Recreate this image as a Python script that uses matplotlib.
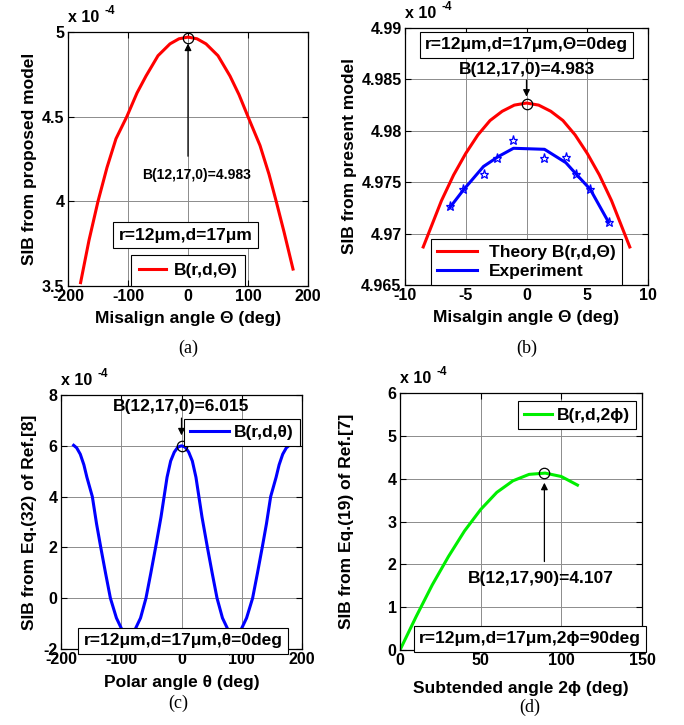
import matplotlib
matplotlib.use("Agg")
import matplotlib.pyplot as plt
from matplotlib.ticker import FuncFormatter, FixedLocator

plt.rcParams['font.family'] = ['Liberation Sans', 'DejaVu Sans']
plt.rcParams['font.weight'] = 'bold'

TICK = 11.5
LAB = 12.5
ANN = 12.5

# ---------------- data (values in units of 1e-4) ----------------
# (a)
a_x = [-179, -165, -150, -135, -120, -102, -85, -70, -50, -30, -15, 0,
       15, 30, 50, 70, 85, 100, 120, 135, 147, 160, 175]
a_y = [3.52, 3.77, 4.00, 4.20, 4.37, 4.50, 4.64, 4.74, 4.86, 4.93, 4.96, 4.97,
       4.96, 4.93, 4.86, 4.74, 4.63, 4.50, 4.33, 4.16, 4.00, 3.82, 3.60]
a_peak = (0, 4.965)

# (b)
b_theory_x = [-8.5, -7, -6, -5, -4, -3, -2, -1, 0, 1, 2, 3, 4, 5, 6, 7, 8.5]
b_theory_y = [4.9687, 4.9732, 4.9757, 4.9778, 4.9796, 4.9810, 4.9819, 4.9825,
              4.9827, 4.9825, 4.9819, 4.9810, 4.9796, 4.9778, 4.9757, 4.9732, 4.9687]
b_exp_line_x = [-6.29, -5.19, -3.54, -2.31, -1.07, 1.48, 3.24, 4.0, 5.25, 6.76]
b_exp_line_y = [4.97256, 4.97425, 4.97653, 4.9775, 4.9783, 4.9782, 4.9769, 4.9759, 4.9743, 4.9711]
b_exp_pts_x = [-6.3, -5.2, -3.5, -2.4, -1.07, 1.46, 3.24, 4.07, 5.25, 6.76]
b_exp_pts_y = [4.9727, 4.9743, 4.9758, 4.9774, 4.9791, 4.9774, 4.9775, 4.9758, 4.9743, 4.9711]
b_peak = (0, 4.9826)

# (c)
c_x = [-179, -174, -168, -162, -157, -148, -141, -134, -126, -118, -108, -98, -88,
       -78, -68, -59, -51, -43, -34, -24, -18, -12, -6, 0,
       6, 12, 18, 24, 34, 43, 51, 59, 68, 78, 88, 98, 108, 118, 126, 134, 141, 148,
       157, 162, 168, 174, 179]
c_y = [6.02, 5.92, 5.67, 5.25, 4.76, 4.0, 2.93, 2.0, 0.98, 0.0, -0.78, -1.28, -1.45,
       -1.28, -0.78, 0.0, 0.98, 2.0, 3.2, 4.76, 5.4, 5.75, 5.95, 6.0,
       5.95, 5.75, 5.4, 4.76, 3.2, 2.0, 0.98, 0.0, -0.78, -1.28, -1.45, -1.28, -0.78,
       0.0, 0.98, 2.0, 2.93, 4.0, 4.76, 5.25, 5.67, 5.92, 6.02]
c_peak = (0, 6.0)

# (d)
d_x = [0, 10, 20, 30, 40, 50, 60, 70, 80, 90, 100, 110]
d_y = [0.0, 0.78, 1.52, 2.18, 2.78, 3.28, 3.68, 3.95, 4.10, 4.13, 4.05, 3.85]
d_peak = (89.5, 4.13)

fig = plt.figure(figsize=(6.84, 7.25), dpi=100)
W, H = 684, 725

def make_ax(l, r, t, b):
    return fig.add_axes([l / W, 1 - b / H, (r - l) / W, (b - t) / H])

fmt = FuncFormatter(lambda v, p: '%g' % round(v, 6))

def style(ax, xlim, ylim, xt, yt):
    ax.set_xlim(*xlim)
    ax.set_ylim(*ylim)
    ax.xaxis.set_major_locator(FixedLocator(xt))
    ax.yaxis.set_major_locator(FixedLocator(yt))
    ax.xaxis.set_major_formatter(fmt)
    ax.yaxis.set_major_formatter(fmt)
    ax.tick_params(direction='in', length=4, width=0.8, top=True, right=True,
                   labelsize=TICK, pad=2.5)
    ax.grid(True, color='0.55', lw=0.7)
    ax.set_axisbelow(True)
    for s in ax.spines.values():
        s.set_linewidth(0.9)
    ax.annotate('x 10', xy=(0, 1), xycoords='axes fraction', xytext=(0, 5),
                textcoords='offset points', ha='left', va='bottom',
                fontsize=TICK, fontweight='bold')
    ax.annotate('-4', xy=(0, 1), xycoords='axes fraction', xytext=(26, 11),
                textcoords='offset points', ha='left', va='bottom',
                fontsize=8.5, fontweight='bold')

boxprops = dict(boxstyle='square,pad=0.3', fc='white', ec='black', lw=0.8)

def legend(ax, **kw):
    leg = ax.legend(fancybox=False, edgecolor='black', framealpha=1, fontsize=ANN,
                    borderaxespad=0, **kw)
    leg.get_frame().set_linewidth(0.8)
    return leg

def labels(ax, xl, yl, xly, ylx):
    ax.set_xlabel(xl, fontsize=LAB, fontweight='bold')
    ax.set_ylabel(yl, fontsize=LAB, fontweight='bold')
    ax.xaxis.set_label_coords(0.5, xly)
    ax.yaxis.set_label_coords(ylx, 0.5)

# ---------------- (a) ----------------
ax = make_ax(68, 308, 32, 286)
style(ax, (-200, 200), (3.5, 5.0), [-200, -100, 0, 100, 200], [3.5, 4, 4.5, 5])
ax.plot(a_x, a_y, color='red', lw=2.2, label='B(r,d,Θ)')
ax.plot(*a_peak, 'o', mfc='none', mec='black', ms=7.5, mew=0.9)
ax.annotate('', xy=(0, 4.948), xytext=(0, 4.25),
            arrowprops=dict(arrowstyle='-|>', color='black', lw=0.9, mutation_scale=10))
ax.text(15, 4.155, 'B(12,17,0)=4.983', ha='center', va='center', fontsize=10)
ax.text(-4, 3.80, 'r=12μm,d=17μm', ha='center', va='center', fontsize=ANN, bbox=boxprops)
legend(ax, loc='lower center', bbox_to_anchor=(0.5, 0.0), handlelength=1.6,
       borderpad=0.45, handletextpad=0.4)
labels(ax, 'Misalign angle Θ (deg)', 'SIB from proposed model', -0.098, -0.13)

# ---------------- (b) ----------------
ax = make_ax(405, 648, 28, 285)
style(ax, (-10, 10), (4.965, 4.99), [-10, -5, 0, 5, 10],
      [4.965, 4.97, 4.975, 4.98, 4.985, 4.99])
ax.plot(b_theory_x, b_theory_y, color='red', lw=2.2, label='Theory B(r,d,Θ)')
ax.plot(b_exp_line_x, b_exp_line_y, color='blue', lw=2.2, label='Experiment')
ax.plot(b_exp_pts_x, b_exp_pts_y, linestyle='none', marker='*', mfc='none',
        mec='blue', ms=6.5, mew=0.9)
ax.plot(*b_peak, 'o', mfc='none', mec='black', ms=7.5, mew=0.9)
ax.annotate('', xy=(0, 4.98305), xytext=(0, 4.9852),
            arrowprops=dict(arrowstyle='-|>', color='black', lw=0.9, mutation_scale=10))
ax.text(0, 4.98594, 'B(12,17,0)=4.983', ha='center', va='center', fontsize=ANN)
ax.text(0, 4.98835, 'r=12μm,d=17μm,Θ=0deg', ha='center', va='center', fontsize=ANN,
        bbox=boxprops)
legend(ax, loc='lower center', bbox_to_anchor=(0.5, 0.0), handlelength=2.3,
       borderpad=0.35, handletextpad=0.7, labelspacing=0.2)
labels(ax, 'Misalgin angle Θ (deg)', 'SIB from present model', -0.097, -0.198)

# ---------------- (c) ----------------
ax = make_ax(61, 302, 395, 649)
style(ax, (-200, 200), (-2, 8), [-200, -100, 0, 100, 200], [-2, 0, 2, 4, 6, 8])
ax.plot(c_x, c_y, color='blue', lw=2.2, label='B(r,d,θ)')
ax.plot(*c_peak, 'o', mfc='none', mec='black', ms=7.5, mew=0.9)
ax.annotate('', xy=(0, 6.3), xytext=(0, 7.2),
            arrowprops=dict(arrowstyle='-|>', color='black', lw=0.9, mutation_scale=10))
ax.text(0, 7.55, 'B(12,17,0)=6.015', ha='center', va='center', fontsize=ANN)
ax.text(2.5, -1.68, 'r=12μm,d=17μm,θ=0deg', ha='center', va='center', fontsize=ANN,
        bbox=boxprops)
legend(ax, loc='upper right', bbox_to_anchor=(0.99, 0.905), handlelength=2.2,
       borderpad=0.35, handletextpad=0.3)
labels(ax, 'Polar angle θ (deg)', 'SIB from Eq.(32) of Ref.[8]', -0.102, -0.10)

# ---------------- (d) ----------------
ax = make_ax(400, 642, 393, 650)
style(ax, (0, 150), (0, 6), [0, 50, 100, 150], [0, 1, 2, 3, 4, 5, 6])
ax.plot(d_x, d_y, color='#00ee00', lw=2.2, label='B(r,d,2ϕ)')
ax.plot(*d_peak, 'o', mfc='none', mec='black', ms=7.5, mew=0.9)
ax.annotate('', xy=(89.5, 3.97), xytext=(89.5, 2.0),
            arrowprops=dict(arrowstyle='-|>', color='black', lw=0.9, mutation_scale=10))
ax.text(87.5, 1.68, 'B(12,17,90)=4.107', ha='center', va='center', fontsize=ANN)
ax.text(80.6, 0.26, 'r=12μm,d=17μm,2ϕ=90deg', ha='center', va='center', fontsize=ANN,
        bbox=boxprops)
legend(ax, loc='upper right', bbox_to_anchor=(0.975, 0.967), handlelength=1.6,
       borderpad=0.35, handletextpad=0.3)
labels(ax, 'Subtended angle 2ϕ (deg)', 'SIB from Eq.(19) of Ref.[7]', -0.12, -0.19)

# captions
for txt, x, y in [('(a)', 188, 348), ('(b)', 527, 348), ('(c)', 178, 703), ('(d)', 530, 707)]:
    fig.text(x / W, 1 - y / H, txt, ha='center', va='center', fontsize=13,
             family='Liberation Serif', fontweight='normal')

fig.savefig('out.png', dpi=100)
